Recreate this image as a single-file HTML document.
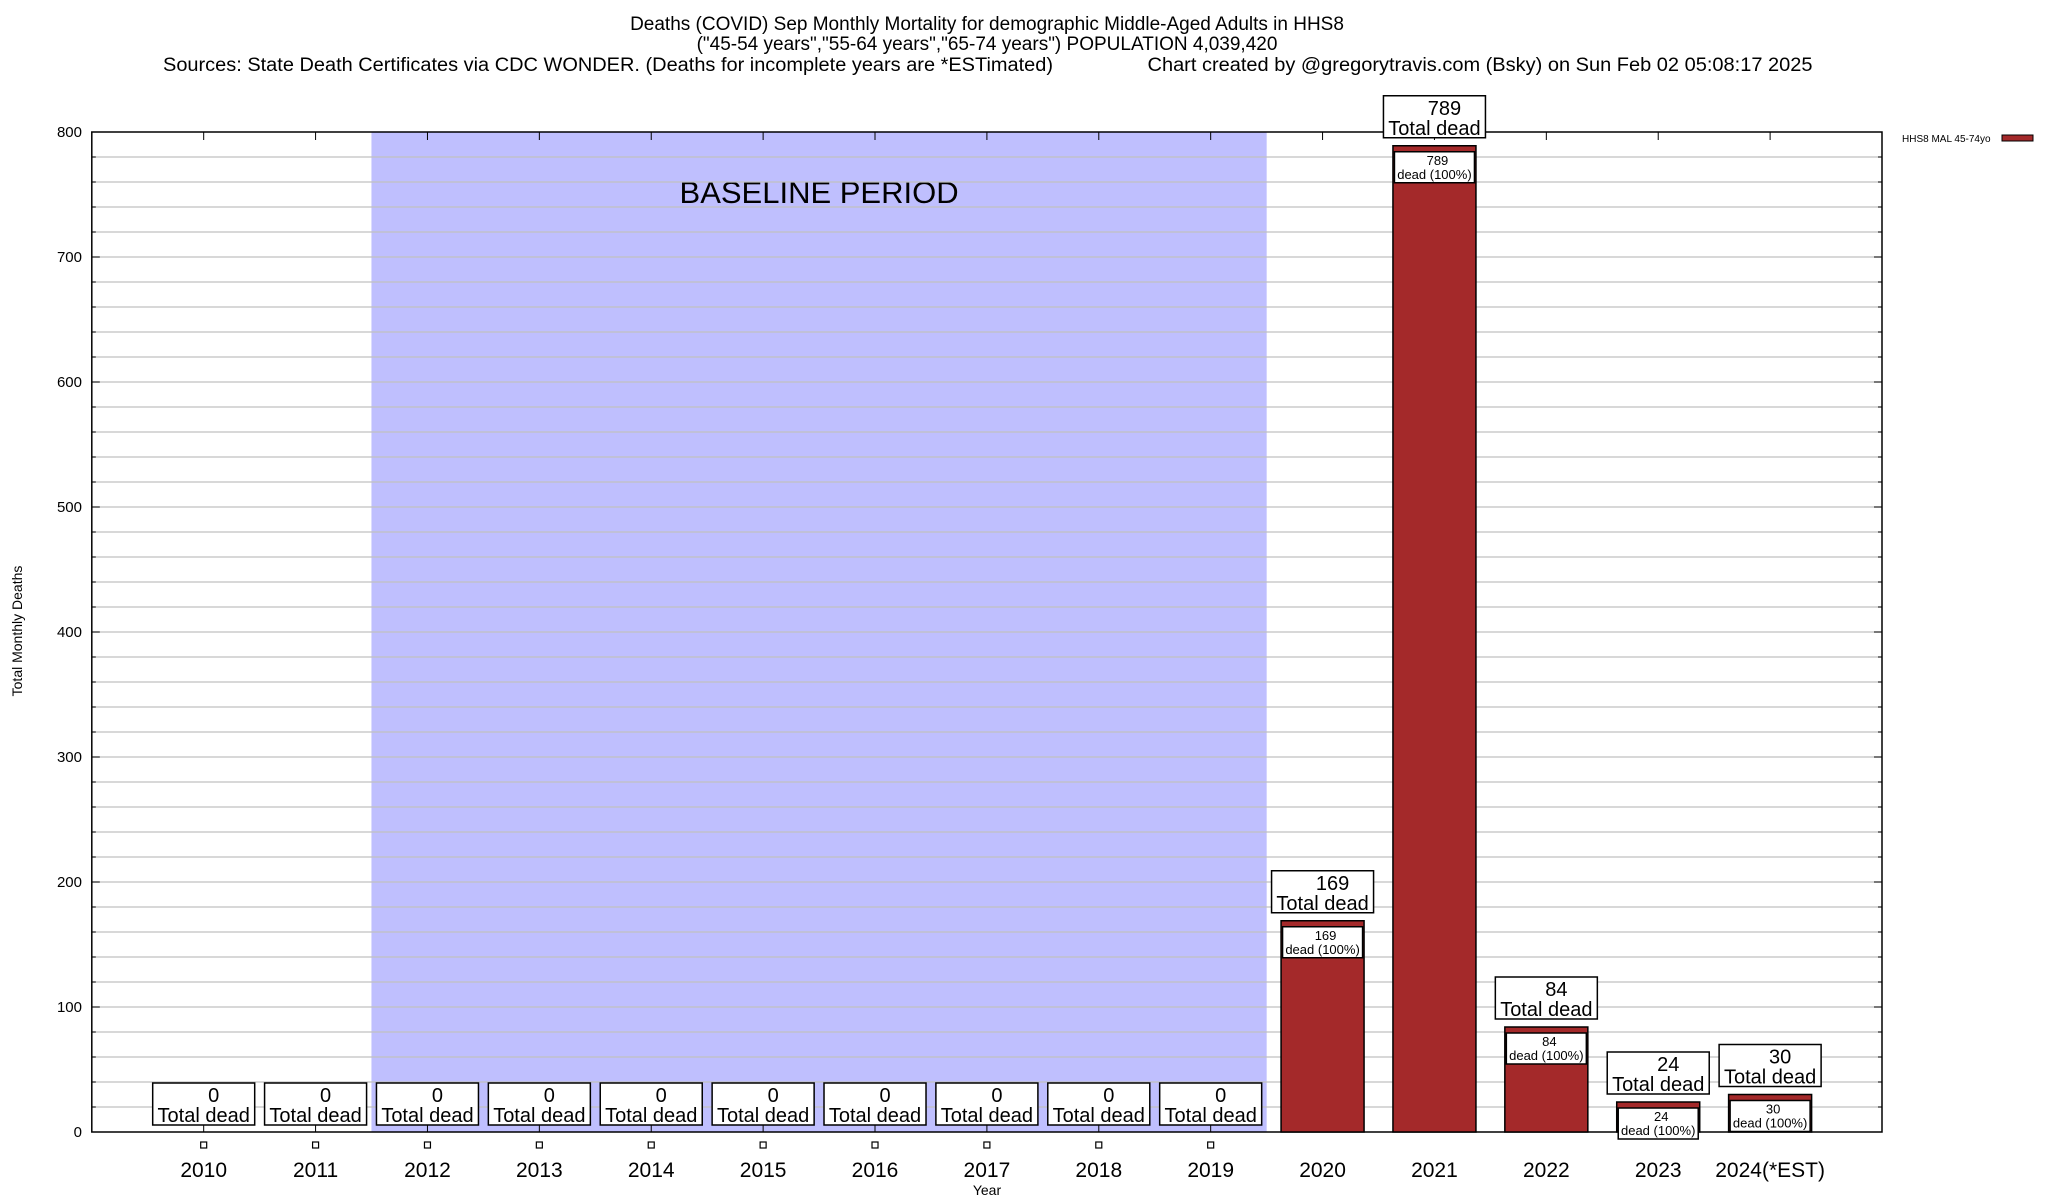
<!DOCTYPE html>
<html><head><meta charset="utf-8"><style>
body{margin:0;background:#fff;}
svg{display:block;font-family:"Liberation Sans",sans-serif;}
</style></head><body>
<svg id="chart" width="2048" height="1200" xmlns="http://www.w3.org/2000/svg">
<g font-size="19" text-anchor="middle">
<text x="987" y="30">Deaths (COVID) Sep Monthly Mortality for demographic Middle-Aged Adults in HHS8</text>
<text x="987" y="50">("45-54 years","55-64 years","65-74 years") POPULATION 4,039,420</text>
<text x="608" y="71" textLength="890" lengthAdjust="spacingAndGlyphs">Sources: State Death Certificates via CDC WONDER. (Deaths for incomplete years are *ESTimated)</text>
<text x="1480" y="71" textLength="665" lengthAdjust="spacingAndGlyphs">Chart created by @gregorytravis.com (Bsky) on Sun Feb 02 05:08:17 2025</text>
</g>
<g id="plot"></g>
<text x="22" y="631" font-size="14" text-anchor="middle" transform="rotate(-90 22 631)">Total Monthly Deaths</text>
<text x="987" y="1195" font-size="14" text-anchor="middle">Year</text>
<g>
<text x="1902" y="142" font-size="10">HHS8 MAL 45-74yo</text>
<rect x="2002" y="135" width="31" height="6" fill="#a4292a" stroke="#000" stroke-width="1"/>
</g>
</svg>
<script>
const categories=["2010","2011","2012","2013","2014","2015","2016","2017","2018","2019","2020","2021","2022","2023","2024(*EST)"];
const deaths=[0,0,0,0,0,0,0,0,0,0,169,789,84,24,30];
const yTicks=[0,100,200,300,400,500,600,700,800];
const baselineStart=2, baselineEnd=9;
const NS="http://www.w3.org/2000/svg";
const L=91.8,R=1882,T=132,B=1132;
const xs=i=>L+(R-L)*(i+1)/16;
const ys=v=>B-(B-T)*v/800;
const g=document.getElementById('plot');
function mk(t,a,p){const e=document.createElementNS(NS,t);for(const k in a)e.setAttribute(k,a[k]);(p||g).appendChild(e);return e;}
let bl=mk('rect',{x:xs(baselineStart)-56,y:T,width:xs(baselineEnd)-xs(baselineStart)+112,height:B-T,fill:'#bfbffe'});


let bt=mk('text',{x:(xs(baselineStart)+xs(baselineEnd))/2,y:203,'font-size':31,'text-anchor':'middle'});bt.textContent='BASELINE PERIOD';


for(let v=20;v<=780;v+=20){let l=mk('line',{x1:L,x2:R,y1:ys(v),y2:ys(v),stroke:'#c0c0c0','stroke-width':1.3});


mk('line',{x1:L,x2:L+(v%100?4:8),y1:ys(v),y2:ys(v),stroke:'#000'});mk('line',{x1:R,x2:R-(v%100?4:8),y1:ys(v),y2:ys(v),stroke:'#000'});}
yTicks.forEach(v=>{let t=mk('text',{x:82,y:ys(v)+5,'font-size':15,'text-anchor':'end'});t.textContent=v;

});
mk('rect',{x:L,y:T,width:R-L,height:B-T,fill:'none',stroke:'#000','stroke-width':1.5});
const bw=83;
categories.forEach((c,i)=>{
 const x=xs(i),v=deaths[i];
 mk('line',{x1:x,x2:x,y1:B,y2:B-8,stroke:'#000'});mk('line',{x1:x,x2:x,y1:T,y2:T+8,stroke:'#000'});
 let lab=mk('text',{x:x,y:1177,'font-size':21,'text-anchor':'middle'});lab.textContent=c;
 
 
 let top=B;
 if(v>0){
  let b=mk('rect',{x:x-bw/2,y:ys(v),width:bw,height:B-ys(v),fill:'#a4292a',stroke:'#000','stroke-width':1.5});
  
  
  top=ys(v);
  let ib=mk('rect',{x:x-40,y:top+6,width:80,height:31,fill:'#fff',stroke:'#000','stroke-width':1.5});
  
  
  let t1=mk('text',{x:x+3,y:top+19,'font-size':13,'text-anchor':'middle'});t1.textContent=v;
  let t2=mk('text',{x:x,y:top+33,'font-size':13,'text-anchor':'middle'});t2.textContent='dead (100%)';
 } else {
  let m=mk('rect',{x:x-3,y:1142,width:6,height:6,fill:'none',stroke:'#000','stroke-width':1.2});
  
  
  top=B+1;
 }
 const bb=top-8;
 let ob=mk('rect',{x:x-51,y:bb-42,width:102,height:42,fill:'#fff',stroke:'#000','stroke-width':1.5});
 
 
 let o1=mk('text',{x:x+10,y:bb-23,'font-size':20,'text-anchor':'middle'});o1.textContent=v;
 let o2=mk('text',{x:x,y:bb-3,'font-size':20,'text-anchor':'middle'});o2.textContent='Total dead';
});
</script>
</body></html>
